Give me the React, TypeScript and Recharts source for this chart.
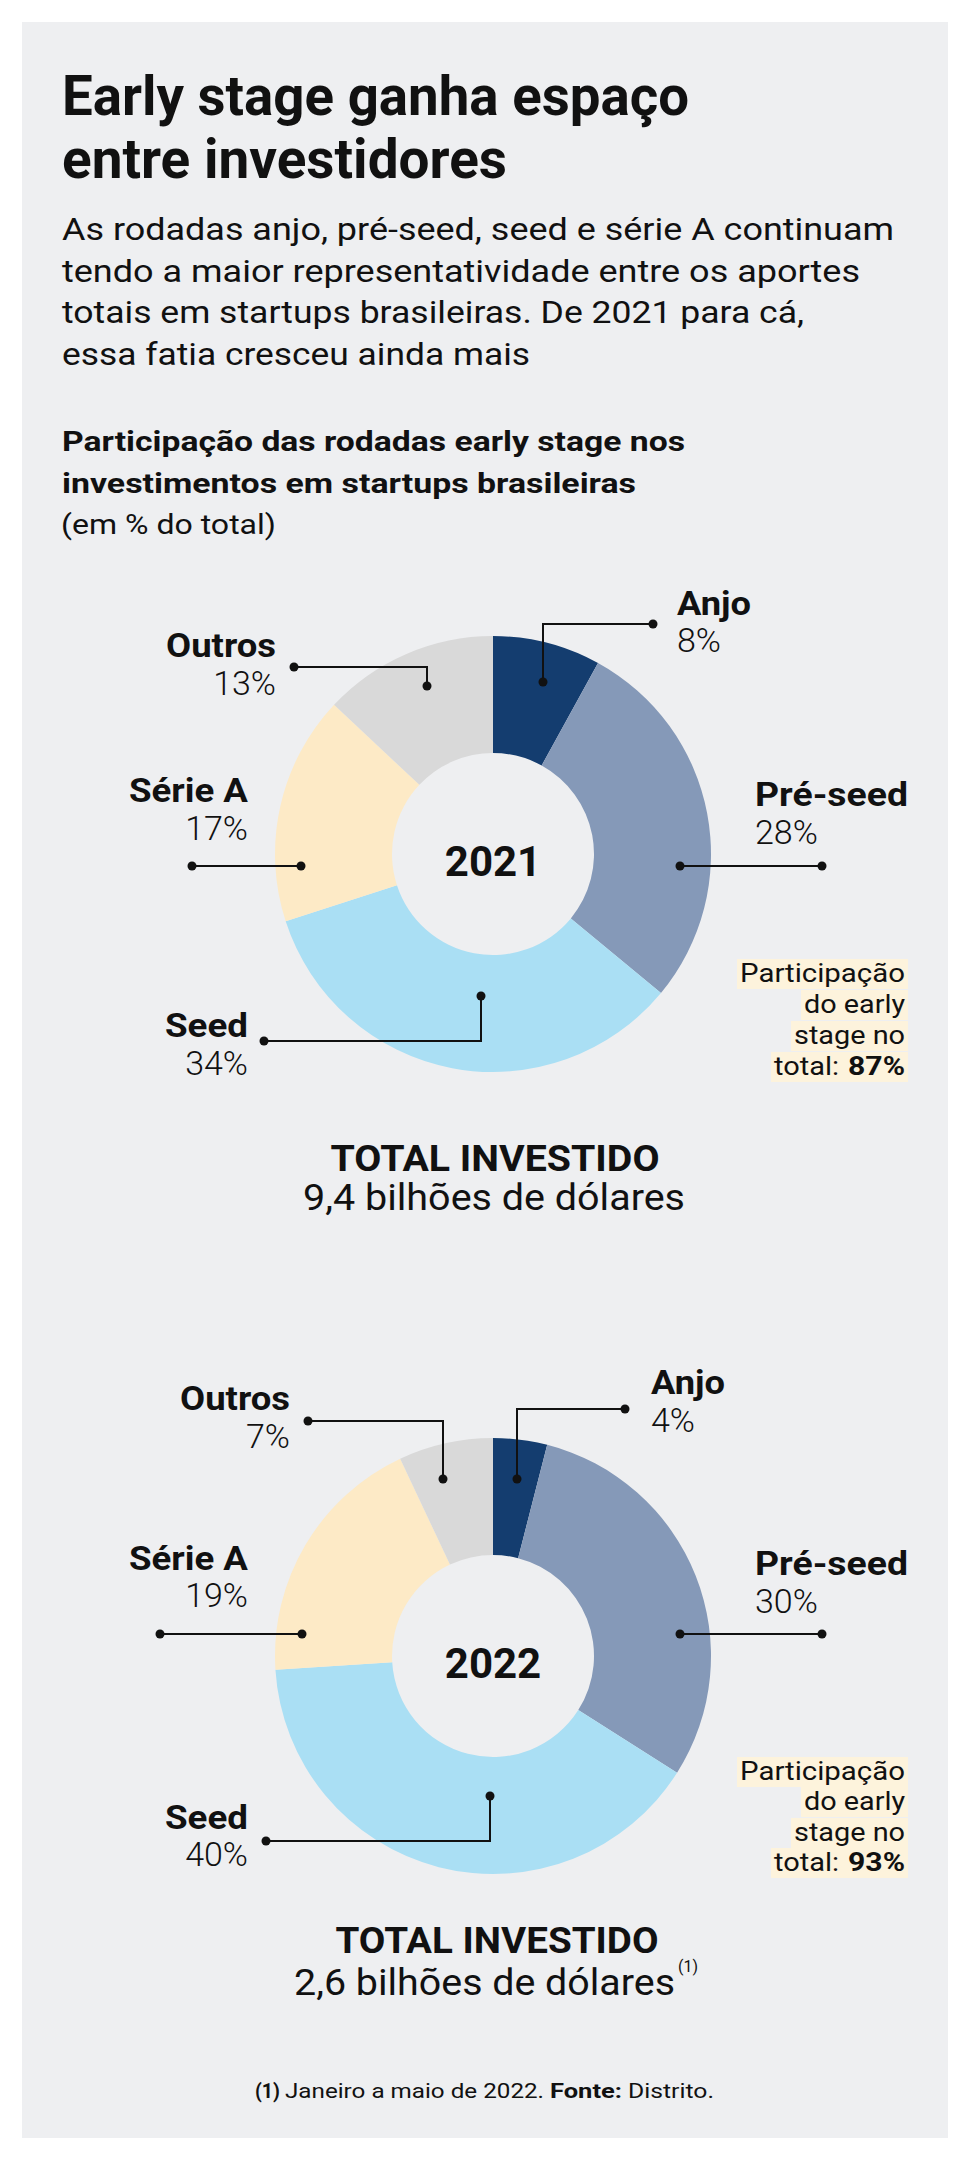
import React from 'react';
import { PieChart, Pie, Cell } from 'recharts';

// ---- data ----
const categories = ['Anjo', 'Pré-seed', 'Seed', 'Série A', 'Outros'];
const share2021 = [8, 28, 34, 17, 13];
const share2022 = [4, 30, 40, 19, 7];
const years = ['2021', '2022'];
const earlyStageShare = [87, 93];
const totalInvested = ['9,4 bilhões de dólares', '2,6 bilhões de dólares'];

const sliceColors = ['#143d6f', '#8599b8', '#aadff4', '#fdeac6', '#d9d9d9'];
// rendered widths of the category names (reference font is wider than Roboto)
const nameWidths = [74, 153, 83, 119, 110];

const FONT = 'Roboto, "Noto Sans", sans-serif';
const INK = '#111';

// leader/label layout per slice, relative to donut centre
type LabelLayout = {
  dot: [number, number];
  elbow: number;
  end: number;
  tx: number;
  anchor: 'start' | 'end';
  nameY: number;
  pctY: number;
};

const layout2021: LabelLayout[] = [
  { dot: [50, -172], elbow: -230, end: 160, tx: 184, anchor: 'start', nameY: -239, pctY: -202 },
  { dot: [187, 12], elbow: 12, end: 329, tx: 262, anchor: 'start', nameY: -48, pctY: -10 },
  { dot: [-12, 142], elbow: 187, end: -229, tx: -245, anchor: 'end', nameY: 183, pctY: 221 },
  { dot: [-192, 12], elbow: 12, end: -301, tx: -245, anchor: 'end', nameY: -52, pctY: -14 },
  { dot: [-66, -168], elbow: -187, end: -199, tx: -217, anchor: 'end', nameY: -197, pctY: -159 },
];

const layout2022: LabelLayout[] = [
  { dot: [24, -177], elbow: -247, end: 132, tx: 158, anchor: 'start', nameY: -262, pctY: -224 },
  { dot: [187, -22], elbow: -22, end: 329, tx: 262, anchor: 'start', nameY: -81, pctY: -43 },
  { dot: [-3, 140], elbow: 185, end: -227, tx: -245, anchor: 'end', nameY: 173, pctY: 210 },
  { dot: [-191, -22], elbow: -22, end: -333, tx: -245, anchor: 'end', nameY: -86, pctY: -49 },
  { dot: [-50, -177], elbow: -235, end: -185, tx: -203, anchor: 'end', nameY: -246, pctY: -208 },
];

function Donut({ values, year, layout, top }: { values: number[]; year: string; layout: LabelLayout[]; top: number }) {
  const data = categories.map((name, i) => ({ name, value: values[i] }));

  const renderLabel = (p: any) => {
    const i = p.index;
    const l = layout[i];
    const cx = p.cx;
    const cy = p.cy;
    const x0 = cx + l.dot[0];
    const y0 = cy + l.dot[1];
    const ey = cy + l.elbow;
    const ex = cx + l.end;
    return (
      <g key={`lbl-${i}`}>
        {i === 0 && (
          <text x={cx} y={cy + 22} textAnchor="middle" fontFamily={FONT} fontSize={42} fontWeight={700} fill={INK}>
            {year}
          </text>
        )}
        <path d={`M${x0},${y0}V${ey}H${ex}`} stroke={INK} strokeWidth={2} fill="none" />
        <circle cx={x0} cy={y0} r={4.5} fill={INK} />
        <circle cx={ex} cy={ey} r={4.5} fill={INK} />
        <text
          x={cx + l.tx}
          y={cy + l.nameY}
          textAnchor={l.anchor}
          textLength={nameWidths[i]}
          lengthAdjust="spacingAndGlyphs"
          fontFamily={FONT}
          fontSize={33}
          fontWeight={700}
          fill={INK}
        >
          {categories[i]}
        </text>
        <text x={cx + l.tx} y={cy + l.pctY} textAnchor={l.anchor} fontFamily={FONT} fontSize={34} fontWeight={300} fill={INK}>
          {values[i]}%
        </text>
      </g>
    );
  };

  return (
    <div style={{ position: 'absolute', left: 22, top, width: 926, height: 700 }}>
      <PieChart width={926} height={700} margin={{ top: 0, right: 0, bottom: 0, left: 0 }}>
        <Pie
          data={data}
          dataKey="value"
          nameKey="name"
          cx={471}
          cy={350}
          innerRadius={101}
          outerRadius={218}
          startAngle={90}
          endAngle={-270}
          stroke="none"
          label={renderLabel}
          labelLine={false}
          isAnimationActive={false}
        >
          {data.map((d, i) => (
            <Cell key={d.name} fill={sliceColors[i]} />
          ))}
        </Pie>
      </PieChart>
    </div>
  );
}

const T = ({ x, y, size, weight = 400, w, anchor = 'start', children }: any) => (
  <text
    x={x}
    y={y}
    fontSize={size}
    fontWeight={weight}
    textLength={w}
    lengthAdjust={w ? 'spacingAndGlyphs' : undefined}
    textAnchor={anchor}
    fill={INK}
    fontFamily={FONT}
  >
    {children}
  </text>
);

// highlighted "Participação do early stage no total" note
function ShareNote({ baselines, share }: { baselines: number[]; share: number }) {
  const right = 905;
  const lines = [
    { text: 'Participação', w: 165 },
    { text: 'do early', w: 101 },
    { text: 'stage no', w: 111 },
  ];
  const lastY = baselines[3];
  return (
    <g>
      {lines.map((l, i) => (
        <rect key={`r${i}`} x={right - l.w - 3} y={baselines[i] - 23} width={l.w + 6} height={30} fill="#fdf3dc" />
      ))}
      <rect x={right - 131 - 3} y={lastY - 23} width={131 + 6} height={30} fill="#fdf3dc" />
      {lines.map((l, i) => (
        <T key={`t${i}`} x={right} y={baselines[i]} size={26} w={l.w} anchor="end">
          {l.text}
        </T>
      ))}
      <T x={right - 131} y={lastY} size={26} w={65}>total:</T>
      <T x={right} y={lastY} size={26} weight={700} w={57} anchor="end">{share}%</T>
    </g>
  );
}

export default function App() {
  return (
    <div style={{ position: 'absolute', left: 0, top: 0, width: 970, height: 2160, background: '#fff' }}>
      <div style={{ position: 'absolute', left: 22, top: 22, width: 926, height: 2116, background: '#eeeff1' }} />
      <Donut values={share2021} year={years[0]} layout={layout2021} top={504} />
      <Donut values={share2022} year={years[1]} layout={layout2022} top={1306} />
      <svg width={970} height={2160} style={{ position: 'absolute', left: 0, top: 0, pointerEvents: 'none' }}>
        <T x={62} y={115} size={55} weight={700} w={627}>Early stage ganha espaço</T>
        <T x={62} y={178} size={55} weight={700} w={445}>entre investidores</T>

        <T x={62} y={240} size={30.5} w={832}>As rodadas anjo, pré-seed, seed e série A continuam</T>
        <T x={62} y={281.5} size={30.5} w={798}>tendo a maior representatividade entre os aportes</T>
        <T x={62} y={323} size={30.5} w={742}>totais em startups brasileiras. De 2021 para cá,</T>
        <T x={62} y={364.5} size={30.5} w={468}>essa fatia cresceu ainda mais</T>

        <T x={62} y={450.5} size={27.5} weight={700} w={623}>Participação das rodadas early stage nos</T>
        <T x={62} y={492.5} size={27.5} weight={700} w={574}>investimentos em startups brasileiras</T>
        <T x={61} y={534} size={27} w={215}>(em % do total)</T>

        <ShareNote baselines={[982, 1013, 1044, 1075]} share={earlyStageShare[0]} />
        <ShareNote baselines={[1780, 1810, 1841, 1871]} share={earlyStageShare[1]} />

        <T x={495} y={1171} size={36} weight={700} w={329} anchor="middle">TOTAL INVESTIDO</T>
        <T x={494} y={1210} size={37} w={382} anchor="middle">{totalInvested[0]}</T>

        <T x={497} y={1953} size={36} weight={700} w={323} anchor="middle">TOTAL INVESTIDO</T>
        <T x={294} y={1995} size={37} w={381}>{totalInvested[1]}</T>
        <T x={678} y={1972} size={17} w={20}>(1)</T>

        <T x={255} y={2098} size={21} weight={700} w={25}>(1)</T>
        <T x={285} y={2098} size={21} w={259}>Janeiro a maio de 2022.</T>
        <T x={550} y={2098} size={21} weight={700} w={72}>Fonte:</T>
        <T x={628} y={2098} size={21} w={86}>Distrito.</T>
      </svg>
    </div>
  );
}
